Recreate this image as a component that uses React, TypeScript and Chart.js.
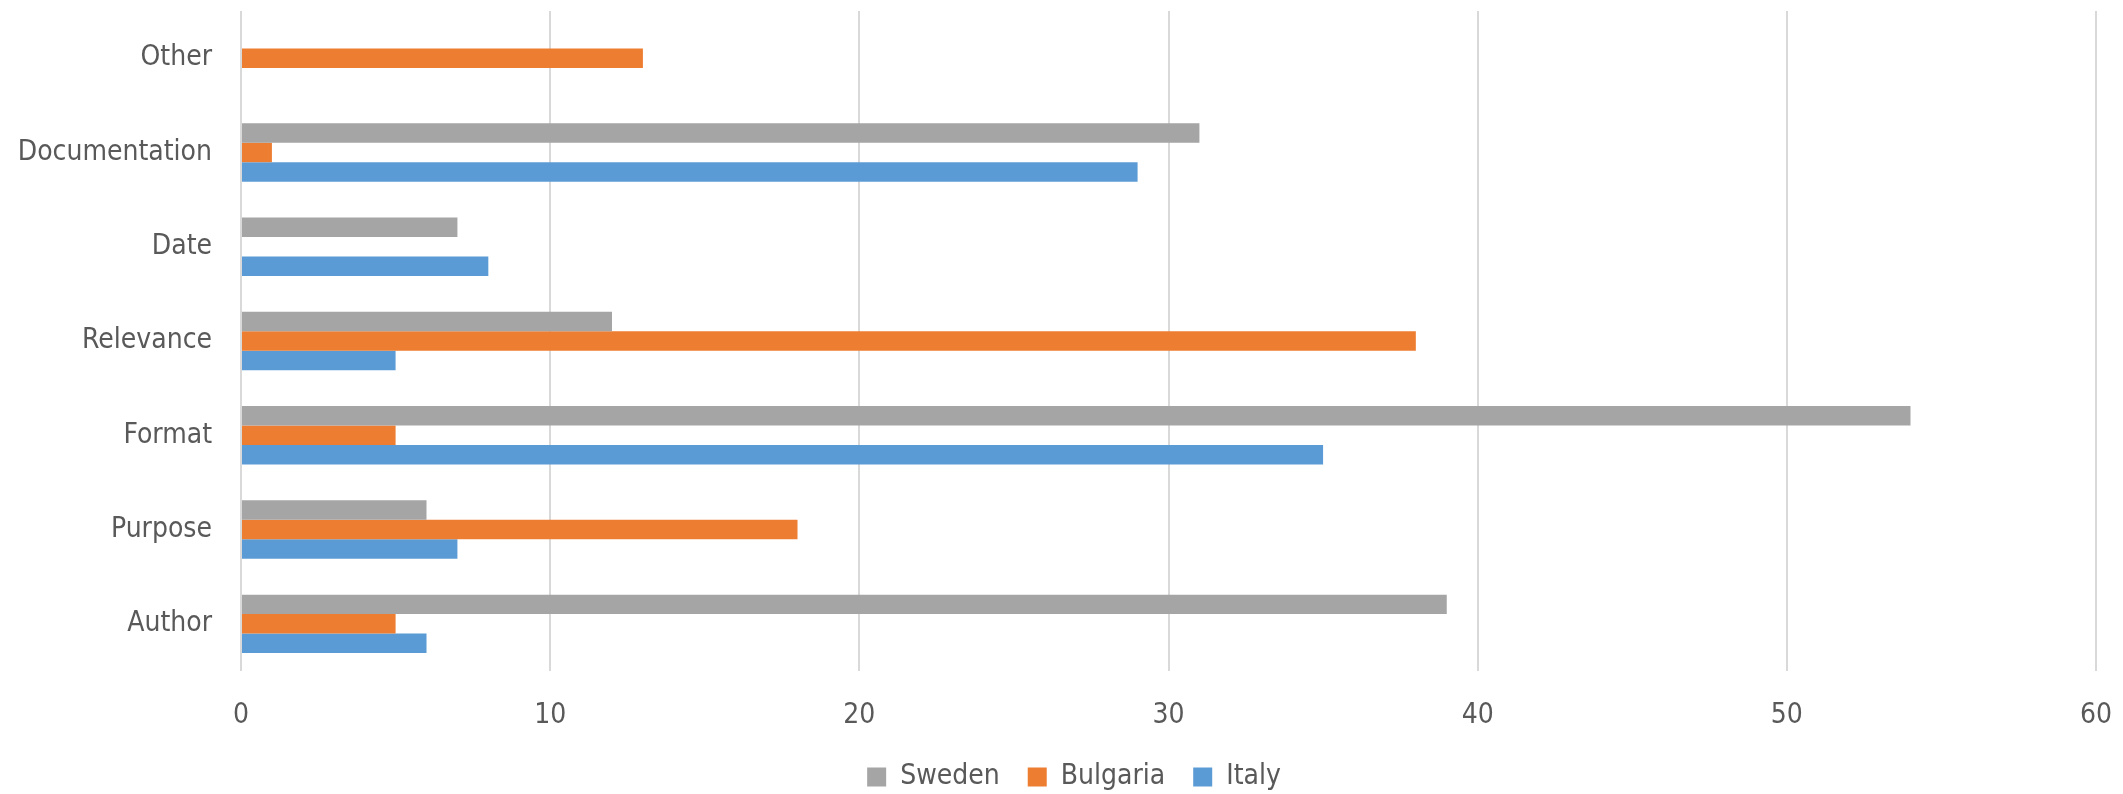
import React, { useEffect, useRef } from "react";
import { Chart, registerables } from "chart.js";

Chart.register(...registerables);

const categories = ["Other", "Documentation", "Date", "Relevance", "Format", "Purpose", "Author"];
const seriesNames = ["Sweden", "Bulgaria", "Italy"];
const sweden = [0, 31, 7, 12, 54, 6, 39];
const bulgaria = [13, 1, 0, 38, 5, 18, 5];
const italy = [0, 29, 8, 5, 35, 7, 6];
const seriesColors = ["#A5A5A5", "#ED7D31", "#5B9BD5"];
const xMin = 0;
const xMax = 60;
const xStep = 10;

const FONT = "'Liberation Sans Narrow', 'DejaVu Sans Condensed', 'Noto Sans', sans-serif";
const TEXT = "#595959";

const legendShift = {
  id: "legendShift",
  afterLayout(chart: any) {
    const lg = chart.legend;
    if (!lg) return;
    lg.left += 26;
    lg.right += 26;
  },
};

export default function App() {
  const ref = useRef<HTMLCanvasElement | null>(null);

  useEffect(() => {
    if (!ref.current) return;
    const values = [sweden, bulgaria, italy];
    const chart = new Chart(ref.current, {
      type: "bar",
      data: {
        labels: categories,
        datasets: seriesNames.map((name, i) => ({
          label: name,
          data: values[i],
          backgroundColor: seriesColors[i],
          borderWidth: 0,
          categoryPercentage: 0.62,
          barPercentage: 1,
        })),
      },
      plugins: [legendShift],
      options: {
        indexAxis: "y",
        responsive: false,
        animation: false,
        devicePixelRatio: 1,
        layout: { padding: { top: 11, right: 27, left: 0, bottom: -7 } },
        plugins: {
          tooltip: { enabled: false },
          legend: {
            position: "bottom",
            labels: {
              boxWidth: 19,
              boxHeight: 19,
              padding: 28,
              color: TEXT,
              font: { family: FONT, size: 28 },
            },
          },
        },
        scales: {
          x: {
            min: xMin,
            max: xMax,
            ticks: {
              stepSize: xStep,
              color: TEXT,
              font: { family: FONT, size: 28 },
              padding: 0,
            },
            grid: {
              color: "#D9D9D9",
              lineWidth: 2,
              drawTicks: true,
              tickLength: 28,
              tickColor: "rgba(0,0,0,0)",
            },
            border: { display: false },
            afterFit: (s: any) => {
              s.height = 64;
            },
          },
          y: {
            ticks: {
              color: TEXT,
              font: { family: FONT, size: 28, lineHeight: 0.75 },
              padding: 0,
            },
            grid: { display: false, drawTicks: true, tickLength: 29 },
            border: { display: false },
            afterFit: (s: any) => {
              s.width = 241;
            },
          },
        },
      },
    });
    return () => chart.destroy();
  }, []);

  return (
    <div style={{ position: "fixed", left: 0, top: 0, width: 2123, height: 794, background: "#fff" }}>
      <canvas ref={ref} width={2123} height={794} style={{ width: 2123, height: 794, display: "block" }} />
    </div>
  );
}
